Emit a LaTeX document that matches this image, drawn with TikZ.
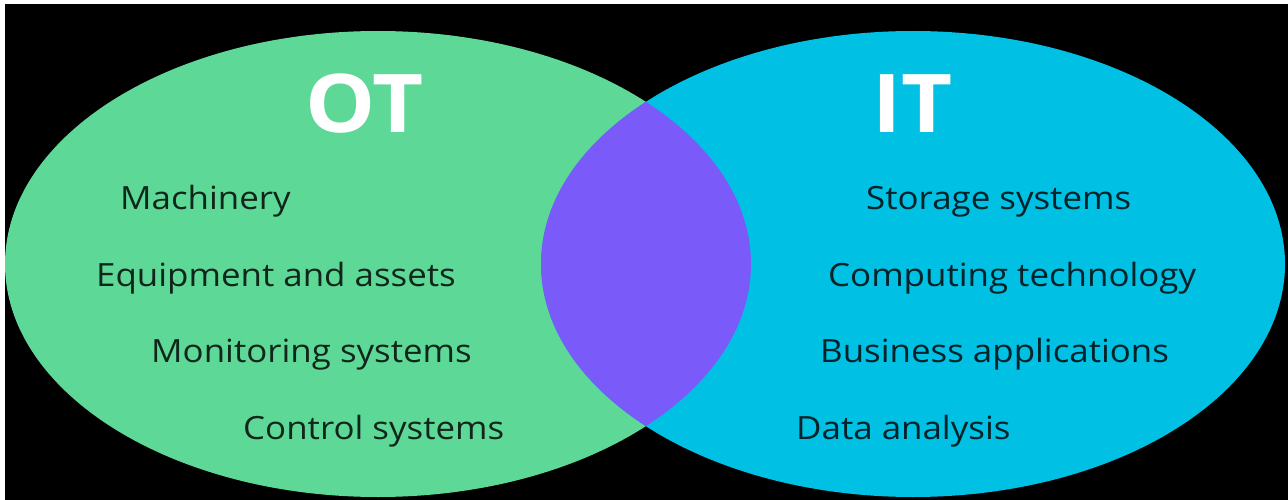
\documentclass[tikz,border=0pt]{standalone}
\usepackage{fontspec}
\setmainfont{Open Sans}
\newfontfamily\widefont[FakeStretch=1.09]{Open Sans}
\definecolor{otgreen}{RGB}{94,216,151}
\definecolor{itblue}{RGB}{0,192,228}
\definecolor{lens}{RGB}{122,90,248}
\tikzset{
  item/.style={anchor=base west, inner sep=0pt, text=black, text opacity=0.82,
    font=\widefont\fontsize{32}{38}\selectfont},
  title/.style={anchor=base west, inner sep=0pt, text=white,
    font=\widefont\fontsize{81}{92}\selectfont\bfseries},
}
\begin{document}
\begin{tikzpicture}[x=1pt,y=-1pt]
\useasboundingbox (0,0) rectangle (1288,500);
\fill[white] (0,0) rectangle (1288,500);
\fill[black] (5,4) rectangle (1288,500);
\begin{scope}
\clip (5,4) rectangle (1288,500);
\fill[otgreen] (378,264) ellipse [x radius=373, y radius=233];
\fill[itblue] (913,264) ellipse [x radius=372, y radius=233];
\begin{scope}
\clip (378,264) ellipse [x radius=373, y radius=233];
\fill[lens] (913,264) ellipse [x radius=372, y radius=233];
\end{scope}
\end{scope}
\node[title] (ot) at (305,133) {OT};
\node[title] (it) at (872,133) {IT};
\node[item] (m1) at (120,209) {Machinery};
\node[item] (m2) at (96,286) {Equipment and assets};
\node[item] (m3) at (151,362) {Monitoring systems};
\node[item] (m4) at (243,439) {Control systems};
\node[item] (i1) at (866,209) {Storage systems};
\node[item] (i2) at (828,286) {Computing technology};
\node[item] (i3) at (820,362) {Business applications};
\node[item] (i4) at (796,439) {Data analysis};
\end{tikzpicture}
\end{document}
